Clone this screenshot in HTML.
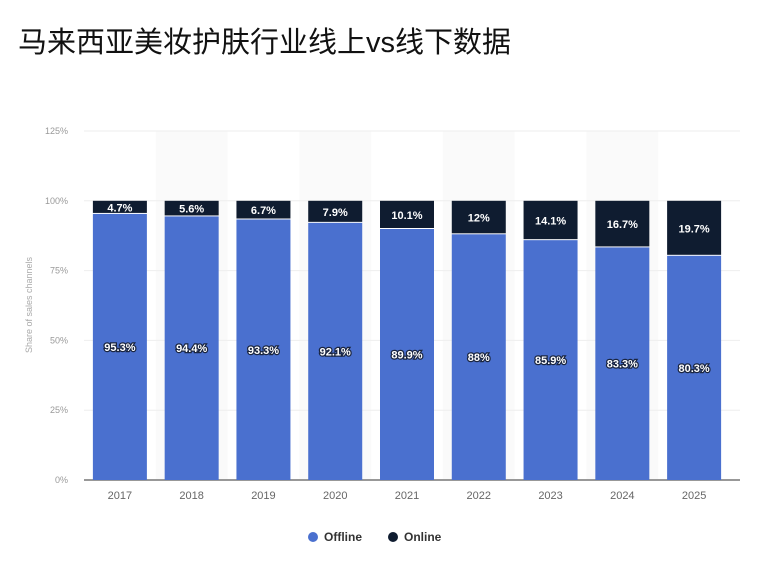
<!DOCTYPE html>
<html><head><meta charset="utf-8"><style>
body{margin:0;background:#fff;width:776px;height:562px;overflow:hidden;font-family:"Liberation Sans","Noto Sans CJK SC",sans-serif}
h1{position:absolute;left:18px;top:19px;margin:0;font-size:29px;font-weight:normal;color:#111;font-family:"Liberation Sans","Noto Sans CJK SC",sans-serif}
</style></head><body>
<h1>马来西亚美妆护肤行业线上vs线下数据</h1>
<svg id="chart" width="776" height="562" style="position:absolute;left:0;top:0"></svg>
<script>
const years=["2017","2018","2019","2020","2021","2022","2023","2024","2025"];
const offline=[95.3,94.4,93.3,92.1,89.9,88,85.9,83.3,80.3];
const online=[4.7,5.6,6.7,7.9,10.1,12,14.1,16.7,19.7];
const offlineLabels=["95.3%","94.4%","93.3%","92.1%","89.9%","88%","85.9%","83.3%","80.3%"];
const onlineLabels=["4.7%","5.6%","6.7%","7.9%","10.1%","12%","14.1%","16.7%","19.7%"];
const ticks=[0,25,50,75,100,125];
const svg=document.getElementById('chart');
const NS='http://www.w3.org/2000/svg';
const x0=84,x1=730,gridEnd=740,y0=480,yTop=131,maxV=125;
const step=(x1-x0)/years.length;
const bw=54;
function y(v){return y0-(v/maxV)*(y0-yTop);}
function xc(i){return x0+step*(i+0.5);}
function mk(t,a,txt){const e=document.createElementNS(NS,t);for(const k in a)e.setAttribute(k,a[k]);if(txt!==undefined)e.textContent=txt;svg.appendChild(e);return e;}
years.forEach((yr,i)=>{if(i%2===1){const b=mk('rect',{x:x0+step*i,y:yTop,width:step,height:y0-yTop,fill:'#fafafa'});

}});
ticks.forEach(t=>{const l=mk('line',{x1:x0,x2:gridEnd,y1:y(t),y2:y(t),stroke:t===0?'#777':'#eee','stroke-width':t===0?1.5:1});


const tx=mk('text',{x:68,y:y(t)+3,'text-anchor':'end','font-size':9,fill:'#999'},t+'%');

});
const yt=mk('text',{x:32,y:305,transform:'rotate(-90 32 305)','text-anchor':'middle','font-size':9,fill:'#aaa'},'Share of sales channels');


years.forEach((yr,i)=>{
const cx=xc(i);
const r1=mk('rect',{x:cx-bw/2,y:y(offline[i]),width:bw,height:y0-y(offline[i]),fill:'#4a70cf'});


const r2=mk('rect',{x:cx-bw/2,y:y(offline[i]+online[i]),width:bw,height:y(offline[i])-y(offline[i]+online[i])-1,fill:'#0f1c30'});


const l1=mk('text',{x:cx,y:(y0+y(offline[i]))/2+4,'text-anchor':'middle','font-size':11,'font-weight':'bold',fill:'#fff',stroke:'#1a2540','stroke-width':2.5,'paint-order':'stroke'},offlineLabels[i]);


const l2=mk('text',{x:cx,y:(y(offline[i])+y(100))/2+4,'text-anchor':'middle','font-size':11,'font-weight':'bold',fill:'#fff'},onlineLabels[i]);


const xl=mk('text',{x:cx,y:499,'text-anchor':'middle','font-size':11,fill:'#666'},yr);


});
const c1=mk('circle',{cx:313,cy:537,r:5,fill:'#4a70cf'});


const t1=mk('text',{x:324,y:541,'font-size':12,'font-weight':'bold',fill:'#333'},'Offline');


const c2=mk('circle',{cx:393,cy:537,r:5,fill:'#0f1c30'});


const t2=mk('text',{x:404,y:541,'font-size':12,'font-weight':'bold',fill:'#333'},'Online');


</script>
</body></html>
